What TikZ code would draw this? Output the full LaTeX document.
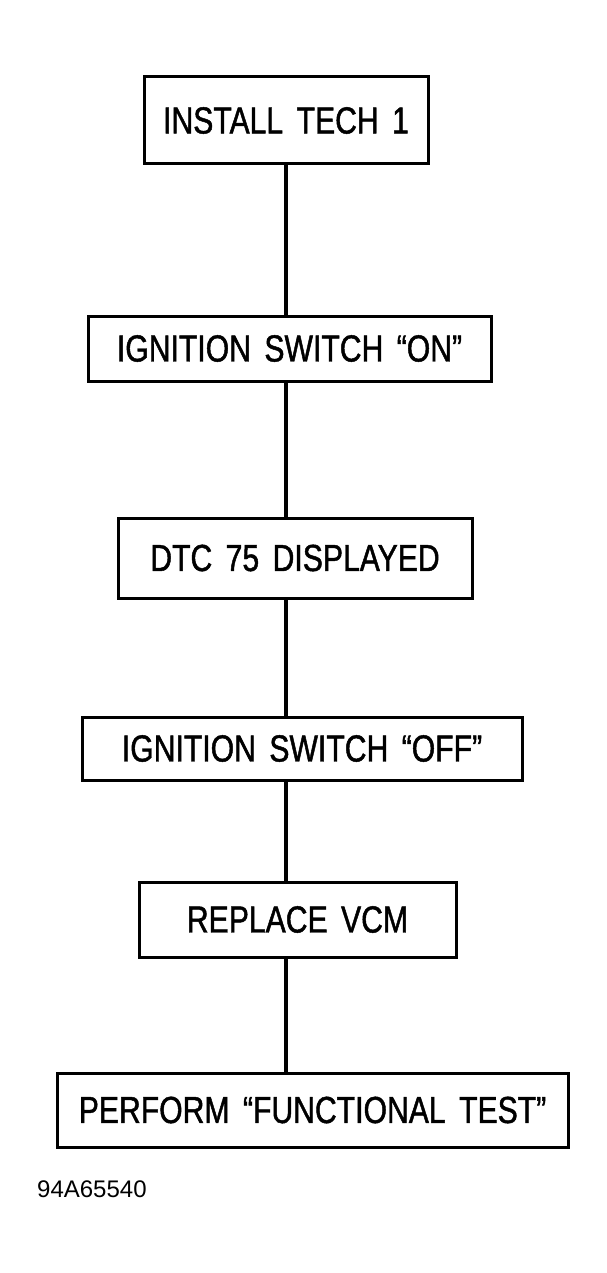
\documentclass[tikz,border=0pt]{standalone}
\usepackage{fontspec}
\setmainfont{Liberation Sans}[FakeStretch=0.8,WordSpace=1.6,FakeBold=1.2]
\newfontfamily\codefont{Liberation Sans}

\tikzset{
  stepbox/.style={draw,line width=3pt,inner sep=0pt,align=center,
    font=\fontsize{37.7}{40}\selectfont},
  link/.style={line width=3.2pt}
}

\begin{document}
\begin{tikzpicture}[x=1pt,y=-1pt]
    \useasboundingbox (0,0) rectangle (607,1273);

    \node[stepbox,minimum width=284pt,minimum height=87pt] (tech)   at (286,120.5)  {INSTALL TECH 1};
    \node[stepbox,minimum width=403pt,minimum height=65pt] (ignon)  at (289.5,348.5) {IGNITION SWITCH “ON”};
    \node[stepbox,minimum width=354pt,minimum height=80pt] (dtc)    at (295,558)    {DTC 75 DISPLAYED};
    \node[stepbox,minimum width=440pt,minimum height=63pt] (ignoff) at (302,748.5)  {IGNITION SWITCH “OFF”};
    \node[stepbox,minimum width=317pt,minimum height=75pt] (vcm)    at (297.5,919.5) {REPLACE VCM};
    \node[stepbox,minimum width=511pt,minimum height=74pt] (test)   at (312.5,1110) {PERFORM “FUNCTIONAL TEST”};

    \node[anchor=base west,inner sep=0pt,font=\codefont\fontsize{24}{26}\selectfont] (code) at (37,1197) {94A65540};

    \coordinate (spine) at (286,0);
    \path[link] (tech.south -| spine)   edge (ignon.north -| spine)
                (ignon.south -| spine)  edge (dtc.north -| spine)
                (dtc.south -| spine)    edge (ignoff.north -| spine)
                (ignoff.south -| spine) edge (vcm.north -| spine)
                (vcm.south -| spine)    edge (test.north -| spine);
\end{tikzpicture}
\end{document}
